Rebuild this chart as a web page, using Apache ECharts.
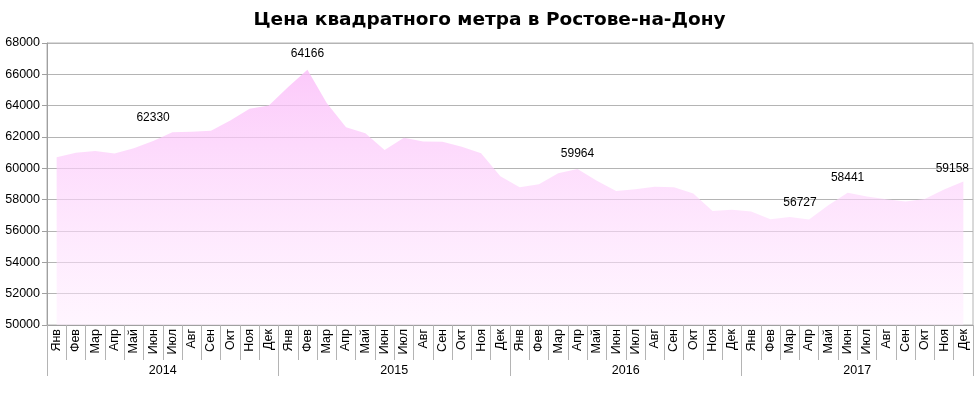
<!DOCTYPE html>
<html>
<head>
<meta charset="utf-8">
<script src="https://cdn.jsdelivr.net/npm/echarts@6/dist/echarts.min.js"></script>
<style>html,body{margin:0;padding:0;background:#fff;}#c{width:979px;height:396px;}</style>
</head>
<body>
<div id="c"></div>
<script>
var titleText = 'Цена квадратного метра в Ростове-на-Дону';
var months = ['Янв','Фев','Мар','Апр','Май','Июн','Июл','Авг','Сен','Окт','Ноя','Дек'];
var years = ['2014','2015','2016','2017'];
var prices2014 = [60700, 61000, 61100, 60950, 61280, 61750, 62300, 62330, 62400, 63050, 63800, 64010];
var prices2015 = [65190, 66300, 64166, 62625, 62240, 61175, 61960, 61705, 61700, 61385, 60960, 59500];
var prices2016 = [58790, 58980, 59680, 59964, 59200, 58550, 58660, 58830, 58800, 58400, 57280, 57360];
var prices2017 = [57250, 56750, 56890, 56727, 57650, 58441, 58200, 58030, 57890, 58050, 58655, 59158];
var labelIndex = [5, 13, 27, 39, 41, 47];
var labelText = ['62330', '64166', '59964', '56727', '58441', '59158'];
var yTicks = [50000, 52000, 54000, 56000, 58000, 60000, 62000, 64000, 66000, 68000];

var categories = [];
years.forEach(function (y) { months.forEach(function (m) { categories.push(m + ' ' + y); }); });
var values = prices2014.concat(prices2015, prices2016, prices2017);

// label styles (layout only)
var labelStyle = {
  5: { distance: 17, offset: [0, 0] },
  39: { distance: 10, offset: [-9, 0] },
  47: { distance: 6, offset: [-11, 0] }
};
var seriesData = values.map(function (v, i) {
  var k = labelIndex.indexOf(i);
  if (k < 0) return { value: v, label: { show: false } };
  var st = labelStyle[i] || { distance: 9, offset: [0, 0] };
  return {
    value: v,
    label: {
      show: true, position: 'top', distance: st.distance, offset: st.offset,
      formatter: labelText[k], color: '#000', opacity: 1, fontSize: 12,
      fontFamily: 'Liberation Sans, Arial, sans-serif'
    }
  };
});

var chart = echarts.init(document.getElementById('c'), null, { renderer: 'canvas' });
chart.setOption({
  animation: false,
  backgroundColor: '#fff',
  title: {
    text: titleText, left: 'center', top: 6,
    textStyle: { fontFamily: 'DejaVu Sans, Verdana, sans-serif', fontWeight: 'bold', fontSize: 18.5, color: '#000' }
  },
  grid: { left: 47, right: 6, top: 43, bottom: 71, show: true, borderColor: '#b4b4b4', borderWidth: 1 },
  xAxis: [{
    type: 'category', data: categories, boundaryGap: true, position: 'bottom',
    axisLine: { show: true, lineStyle: { color: '#a0a0a0' } },
    axisTick: { show: true, interval: 0, length: 35, lineStyle: { color: '#b4b4b4' } },
    axisLabel: {
      interval: 0, rotate: 90, margin: 4, fontSize: 12.5, color: '#000',
      fontFamily: 'Liberation Sans, Arial, sans-serif',
      formatter: function (v) { return v.split(' ')[0]; }
    },
    splitLine: { show: false }
  }, {
    type: 'category', data: years, boundaryGap: true, position: 'bottom',
    axisLine: { show: false },
    axisTick: { show: true, interval: 0, length: 51, lineStyle: { color: '#b4b4b4' } },
    axisLabel: { interval: 0, margin: 39, fontSize: 12.5, color: '#000', fontFamily: 'Liberation Sans, Arial, sans-serif' },
    splitLine: { show: false }
  }],
  yAxis: {
    type: 'value', min: yTicks[0], max: yTicks[yTicks.length - 1], interval: 2000,
    axisLine: { show: true, lineStyle: { color: '#a0a0a0' } },
    axisTick: { show: true, length: 5, lineStyle: { color: '#a0a0a0' } },
    axisLabel: {
      margin: 7, fontSize: 12.5, color: '#000', fontFamily: 'Liberation Sans, Arial, sans-serif',
      formatter: function (v) { return String(v); }
    },
    splitLine: { show: true, lineStyle: { color: '#b4b4b4', width: 1 } }
  },
  series: [{
    type: 'line', xAxisIndex: 0, data: seriesData,
    symbol: 'circle', symbolSize: 1, showSymbol: true,
    itemStyle: { color: 'rgba(0,0,0,0)', borderWidth: 0 },
    lineStyle: { width: 0, color: 'rgba(0,0,0,0)' },
    areaStyle: {
      opacity: 1,
      color: new echarts.graphic.LinearGradient(0, 0, 0, 1, [
        { offset: 0, color: 'rgba(251,188,249,0.8)' },
        { offset: 1, color: 'rgba(255,236,255,0.5)' }
      ])
    },
    emphasis: { disabled: true }
  }]
});
</script>
</body>
</html>
